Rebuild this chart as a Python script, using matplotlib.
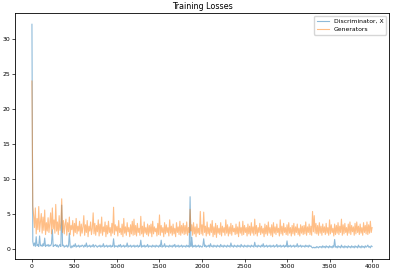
import matplotlib
matplotlib.use("Agg")
import matplotlib.pyplot as plt
import numpy as np

step = 10

d_losses = [
    32.1, 1.1, 0.5, 0.9, 0.4, 1.8, 0.5, 0.7, 0.4, 1.9, 0.5, 0.6, 0.4, 0.8, 0.5, 1.6, 0.4, 0.6, 0.5, 0.7,
    0.4, 0.6, 0.5, 0.8, 2.8, 0.4, 0.6, 0.5, 0.7, 0.4, 0.6, 0.3, 0.5, 0.7, 0.4, 6.3, 0.5, 0.6, 0.3, 0.5,
    0.4, 0.6, 0.3, 0.5, 2.3, 0.4, 0.2, 0.5, 0.3, 0.6, 0.4, 0.8, 0.3, 0.5, 0.4, 0.6, 0.3, 0.5, 0.4, 0.6,
    0.5, 0.3, 0.6, 0.4, 0.9, 0.3, 0.5, 0.4, 0.6, 0.3, 0.5, 0.4, 0.7, 0.3, 0.5, 0.6, 0.4, 0.3, 0.5, 0.4,
    0.6, 0.3, 0.5, 0.4, 0.8, 0.3, 0.5, 0.4, 0.6, 0.3, 0.5, 0.4, 0.6, 0.3, 0.5, 0.4, 1.5, 0.3, 0.5, 0.4,
    0.5, 0.3, 0.6, 0.4, 0.7, 0.3, 0.5, 0.4, 0.6, 0.3, 0.5, 0.4, 0.9, 0.3, 0.5, 0.4, 0.6, 0.3, 0.5, 0.4,
    0.6, 0.3, 0.5, 0.4, 0.6, 0.3, 0.5, 0.4, 1.3, 0.3, 0.5, 0.4, 0.6, 0.3, 0.5, 0.4, 0.7, 0.3, 0.5, 0.4,
    0.5, 0.3, 0.6, 0.4, 0.5, 0.3, 0.6, 0.4, 0.5, 0.3, 0.6, 0.4, 1.3, 0.3, 0.5, 0.4, 0.8, 0.3, 0.5, 0.4,
    0.5, 0.3, 0.6, 0.4, 0.5, 0.3, 0.6, 0.4, 0.7, 0.3, 0.5, 0.4, 0.6, 0.3, 0.5, 0.4, 0.6, 0.3, 0.5, 0.4,
    0.5, 0.3, 0.6, 0.4, 0.5, 0.3, 7.5, 0.4, 1.7, 0.3, 0.5, 0.4, 0.6, 0.3, 0.5, 0.4, 0.6, 0.3, 0.5, 0.4,
    0.3, 0.5, 1.5, 0.4, 0.6, 0.3, 0.5, 0.4, 0.6, 0.3, 0.8, 0.4, 0.5, 0.3, 0.6, 0.4, 0.5, 0.3, 0.6, 0.4,
    0.5, 0.3, 0.7, 0.4, 0.5, 0.3, 0.6, 0.4, 0.5, 0.3, 0.6, 0.4, 0.5, 0.3, 0.9, 0.4, 0.5, 0.3, 0.6, 0.4,
    0.5, 0.3, 0.6, 0.4, 0.5, 0.3, 0.7, 0.4, 0.5, 0.3, 0.6, 0.4, 0.5, 0.3, 0.6, 0.4, 0.5, 0.3, 0.6, 0.4,
    0.5, 0.3, 1.0, 0.4, 0.5, 0.3, 0.6, 0.4, 0.5, 0.3, 0.6, 0.4, 0.8, 0.3, 0.5, 0.4, 0.6, 0.3, 0.5, 0.4,
    0.6, 0.3, 0.5, 0.4, 0.6, 0.3, 0.5, 0.4, 0.7, 0.3, 0.5, 0.4, 0.6, 0.3, 0.5, 0.4, 0.6, 0.3, 0.5, 0.4,
    1.2, 0.3, 0.5, 0.4, 0.6, 0.3, 0.5, 0.4, 0.6, 0.3, 0.5, 0.4, 0.8, 0.3, 0.5, 0.4, 0.6, 0.3, 0.5, 0.4,
    0.5, 0.3, 0.6, 0.4, 0.5, 0.3, 0.6, 0.4, 0.5, 0.3, 0.2, 0.3, 0.2, 0.3, 0.2, 0.4, 0.3, 0.2, 0.4, 0.3,
    0.4, 0.2, 0.5, 0.3, 0.4, 0.2, 0.5, 0.3, 0.4, 0.2, 0.5, 0.3, 0.4, 0.2, 0.5, 0.3, 1.4, 0.3, 0.4, 0.2,
    0.5, 0.3, 0.4, 0.2, 0.6, 0.3, 0.4, 0.2, 0.5, 0.3, 0.4, 0.2, 0.5, 0.3, 0.4, 0.2, 0.5, 0.3, 0.4, 0.2,
    0.5, 0.3, 0.4, 0.2, 0.6, 0.3, 0.4, 0.2, 0.5, 0.3, 0.4, 0.2, 0.5, 0.3, 0.4, 0.6, 0.3, 0.4, 0.2, 0.5,
    0.4,
]

g_losses = [
    24.0, 6.2, 4.8, 3.1, 5.9, 2.2, 4.4, 2.8, 6.1, 2.5, 3.9, 5.1, 2.3, 4.6, 2.7, 5.6, 2.1, 3.8, 2.6, 4.5,
    2.4, 3.7, 5.2, 2.2, 5.9, 2.9, 4.2, 2.3, 6.4, 2.6, 3.9, 2.1, 4.8, 2.7, 3.5, 7.2, 2.4, 4.1, 2.2, 3.6,
    4.3, 2.0, 3.8, 2.5, 4.6, 2.1, 3.4, 2.8, 4.1, 1.9, 3.7, 2.4, 4.4, 2.2, 3.3, 2.6, 4.0, 1.9, 3.6, 2.3,
    3.2, 4.8, 2.0, 3.5, 2.4, 4.1, 1.8, 3.3, 2.6, 3.9, 2.1, 3.0, 5.2, 2.2, 3.7, 2.0, 3.4, 2.5, 4.2, 1.9,
    3.6, 2.3, 4.6, 2.0, 3.2, 2.5, 3.9, 1.8, 3.4, 2.2, 4.0, 2.4, 3.1, 1.9, 3.7, 2.3, 6.0, 2.1, 3.5, 2.6,
    3.3, 1.9, 4.1, 2.4, 3.0, 2.1, 3.6, 1.8, 4.4, 2.3, 3.2, 2.0, 3.8, 2.5, 3.1, 1.8, 3.5, 2.2, 4.0, 2.0,
    4.3, 2.1, 3.4, 1.9, 3.7, 2.4, 3.0, 2.0, 4.7, 2.2, 3.3, 1.8, 3.9, 2.3, 3.1, 2.1, 3.6, 1.9, 3.4, 2.3,
    3.6, 1.8, 4.0, 2.2, 3.2, 2.5, 3.0, 1.9, 3.7, 2.1, 4.9, 2.0, 3.4, 2.4, 3.1, 1.8, 3.8, 2.2, 3.5, 2.4,
    3.1, 1.9, 4.2, 2.3, 3.3, 2.0, 3.6, 2.2, 3.0, 1.8, 3.8, 2.4, 3.2, 2.1, 4.0, 2.0, 3.4, 2.3, 3.7, 2.1,
    3.4, 2.2, 3.9, 2.0, 3.1, 2.4, 5.7, 2.6, 3.5, 2.0, 3.8, 2.2, 3.2, 1.8, 3.6, 2.3, 3.0, 2.1, 5.4, 2.2,
    3.5, 2.0, 5.3, 2.4, 3.3, 1.9, 3.9, 2.2, 3.1, 2.0, 3.6, 2.4, 4.1, 1.8, 3.2, 2.1, 3.7, 1.7, 3.4, 2.3,
    3.0, 2.1, 3.8, 1.9, 3.3, 2.4, 3.1, 2.0, 4.2, 2.3, 3.5, 1.9, 3.2, 2.2, 3.7, 2.0, 3.4, 2.5, 3.0, 2.1,
    3.6, 2.2, 3.2, 1.8, 3.9, 2.3, 3.1, 2.0, 4.0, 2.1, 3.4, 2.4, 3.1, 1.9, 3.6, 2.2, 3.3, 2.0, 3.8, 2.3,
    3.2, 2.0, 4.3, 2.2, 3.4, 1.9, 3.1, 2.4, 3.7, 2.1, 3.3, 2.3, 3.0, 1.8, 3.6, 2.2, 3.4, 2.0, 3.9, 2.3,
    3.1, 2.0, 3.5, 1.8, 3.8, 2.3, 3.2, 2.1, 3.6, 2.4, 3.0, 1.9, 4.2, 2.2, 3.3, 2.0, 3.7, 2.4, 3.1, 2.1,
    3.5, 2.0, 3.8, 2.3, 3.1, 1.9, 3.4, 2.2, 3.7, 2.0, 3.2, 2.4, 3.6, 2.1, 3.0, 1.9, 3.5, 2.3, 3.3, 2.1,
    3.4, 2.2, 3.9, 2.0, 3.2, 2.4, 3.6, 2.1, 3.3, 2.0, 5.4, 2.5, 4.8, 2.3, 3.7, 2.2, 3.4, 2.0, 3.8, 2.3,
    3.3, 2.0, 3.6, 2.4, 3.2, 2.1, 3.7, 2.3, 3.1, 2.0, 4.2, 2.2, 3.5, 2.4, 3.0, 1.9, 3.6, 2.1, 3.4, 2.3,
    3.8, 2.1, 3.3, 2.4, 4.3, 2.0, 3.5, 2.2, 3.7, 2.4, 3.1, 2.0, 3.6, 2.3, 3.9, 2.1, 3.4, 2.5, 3.2, 2.0,
    3.7, 2.2, 3.9, 2.4, 3.3, 2.1, 3.6, 2.3, 3.1, 2.0, 3.8, 2.4, 3.4, 2.2, 3.9, 2.1, 3.5, 2.3, 4.0, 2.4,
    3.1,
]

iters = np.arange(len(d_losses)) * step

plt.rcParams["font.size"] = 4.6

fig = plt.figure(figsize=(3.93, 2.73), dpi=100)
ax = fig.add_axes([0.038, 0.051, 0.952, 0.901])
ax.plot(iters, d_losses, label="Discriminator, X", alpha=0.5, linewidth=0.8)
ax.plot(iters, g_losses, label="Generators", alpha=0.5, linewidth=0.8)
ax.set_title("Training Losses", fontsize=5.8, pad=3)
ax.tick_params(labelsize=4.4, length=2, width=0.5, pad=1.5)
for s in ax.spines.values():
    s.set_linewidth(0.6)
ax.legend(loc="upper right", fontsize=4.4)

fig.savefig("out.png", dpi=100)
